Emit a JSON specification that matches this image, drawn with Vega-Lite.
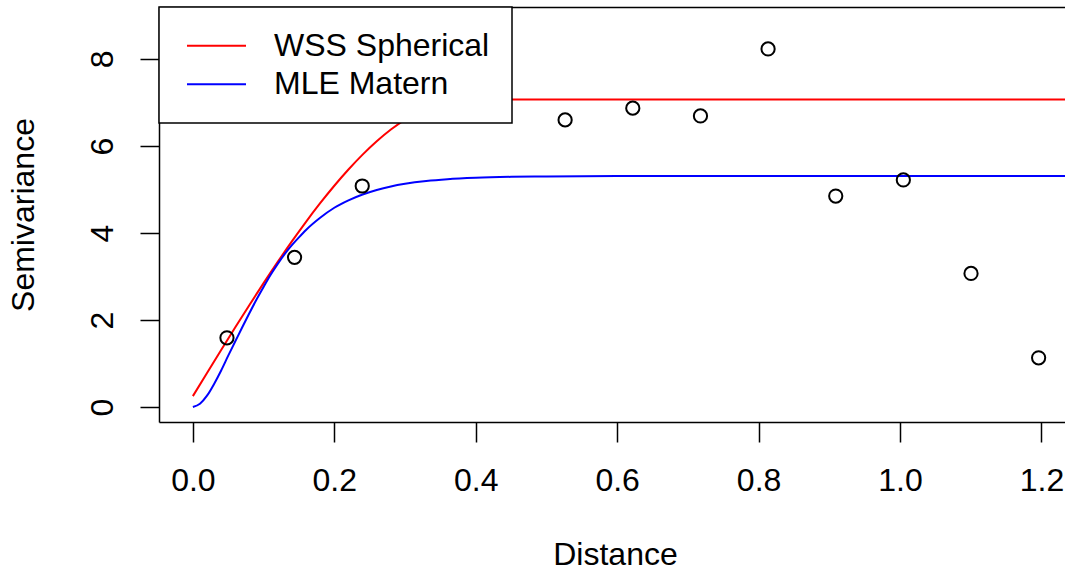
{
  "$schema": "https://vega.github.io/schema/vega-lite/v6.json",
  "width": 906,
  "height": 415,
  "autosize": {"type": "none"},
  "padding": {"left": 159, "top": 7, "right": 0, "bottom": 149},
  "background": "white",
  "datasets": {
    "points": [
      {"distance": 0.0482, "semivariance": 1.59},
      {"distance": 0.1438, "semivariance": 3.44},
      {"distance": 0.2395, "semivariance": 5.08},
      {"distance": 0.5264, "semivariance": 6.60},
      {"distance": 0.6221, "semivariance": 6.87},
      {"distance": 0.7178, "semivariance": 6.69},
      {"distance": 0.8134, "semivariance": 8.23},
      {"distance": 0.9091, "semivariance": 4.85},
      {"distance": 1.0047, "semivariance": 5.22},
      {"distance": 1.1004, "semivariance": 3.07},
      {"distance": 1.196, "semivariance": 1.13}
    ],
    "curves": [
      {"model": "WSS Spherical", "distance": 0.0, "semivariance": 0.25},
      {"model": "WSS Spherical", "distance": 0.02, "semivariance": 0.781},
      {"model": "WSS Spherical", "distance": 0.04, "semivariance": 1.309},
      {"model": "WSS Spherical", "distance": 0.06, "semivariance": 1.831},
      {"model": "WSS Spherical", "distance": 0.08, "semivariance": 2.345},
      {"model": "WSS Spherical", "distance": 0.10, "semivariance": 2.847},
      {"model": "WSS Spherical", "distance": 0.12, "semivariance": 3.335},
      {"model": "WSS Spherical", "distance": 0.14, "semivariance": 3.806},
      {"model": "WSS Spherical", "distance": 0.16, "semivariance": 4.257},
      {"model": "WSS Spherical", "distance": 0.18, "semivariance": 4.684},
      {"model": "WSS Spherical", "distance": 0.20, "semivariance": 5.086},
      {"model": "WSS Spherical", "distance": 0.22, "semivariance": 5.459},
      {"model": "WSS Spherical", "distance": 0.24, "semivariance": 5.801},
      {"model": "WSS Spherical", "distance": 0.26, "semivariance": 6.108},
      {"model": "WSS Spherical", "distance": 0.28, "semivariance": 6.378},
      {"model": "WSS Spherical", "distance": 0.30, "semivariance": 6.608},
      {"model": "WSS Spherical", "distance": 0.32, "semivariance": 6.795},
      {"model": "WSS Spherical", "distance": 0.34, "semivariance": 6.936},
      {"model": "WSS Spherical", "distance": 0.36, "semivariance": 7.028},
      {"model": "WSS Spherical", "distance": 0.385, "semivariance": 7.07},
      {"model": "WSS Spherical", "distance": 1.25, "semivariance": 7.07},
      {"model": "MLE Matern", "distance": 0.0, "semivariance": 0.0},
      {"model": "MLE Matern", "distance": 0.01, "semivariance": 0.075},
      {"model": "MLE Matern", "distance": 0.02, "semivariance": 0.26},
      {"model": "MLE Matern", "distance": 0.03, "semivariance": 0.53},
      {"model": "MLE Matern", "distance": 0.04, "semivariance": 0.84},
      {"model": "MLE Matern", "distance": 0.05, "semivariance": 1.18},
      {"model": "MLE Matern", "distance": 0.06, "semivariance": 1.51},
      {"model": "MLE Matern", "distance": 0.07, "semivariance": 1.84},
      {"model": "MLE Matern", "distance": 0.08, "semivariance": 2.16},
      {"model": "MLE Matern", "distance": 0.09, "semivariance": 2.47},
      {"model": "MLE Matern", "distance": 0.10, "semivariance": 2.76},
      {"model": "MLE Matern", "distance": 0.11, "semivariance": 3.04},
      {"model": "MLE Matern", "distance": 0.12, "semivariance": 3.29},
      {"model": "MLE Matern", "distance": 0.13, "semivariance": 3.52},
      {"model": "MLE Matern", "distance": 0.14, "semivariance": 3.72},
      {"model": "MLE Matern", "distance": 0.15, "semivariance": 3.90},
      {"model": "MLE Matern", "distance": 0.16, "semivariance": 4.07},
      {"model": "MLE Matern", "distance": 0.18, "semivariance": 4.35},
      {"model": "MLE Matern", "distance": 0.20, "semivariance": 4.58},
      {"model": "MLE Matern", "distance": 0.22, "semivariance": 4.75},
      {"model": "MLE Matern", "distance": 0.24, "semivariance": 4.885},
      {"model": "MLE Matern", "distance": 0.26, "semivariance": 4.99},
      {"model": "MLE Matern", "distance": 0.28, "semivariance": 5.07},
      {"model": "MLE Matern", "distance": 0.30, "semivariance": 5.13},
      {"model": "MLE Matern", "distance": 0.33, "semivariance": 5.194},
      {"model": "MLE Matern", "distance": 0.36, "semivariance": 5.236},
      {"model": "MLE Matern", "distance": 0.40, "semivariance": 5.269},
      {"model": "MLE Matern", "distance": 0.45, "semivariance": 5.291},
      {"model": "MLE Matern", "distance": 0.50, "semivariance": 5.301},
      {"model": "MLE Matern", "distance": 0.60, "semivariance": 5.309},
      {"model": "MLE Matern", "distance": 1.25, "semivariance": 5.31}
    ]
  },
  "layer": [
    {
      "data": {"name": "curves"},
      "mark": {"type": "line", "strokeWidth": 2, "clip": true, "interpolate": "monotone"},
      "encoding": {
        "x": {
          "field": "distance", "type": "quantitative",
          "scale": {"domain": [-0.0479, 1.2333], "nice": false, "zero": false},
          "axis": {
            "orient": "bottom",
            "values": [0, 0.2, 0.4, 0.6, 0.8, 1.0, 1.2],
            "format": ".1f",
            "title": "Distance",
            "tickSize": 20,
            "labelBaseline": "alphabetic",
            "labelAlign": "center",
            "labelPadding": 48,
            "titleX": 456,
            "titleY": 142,
            "titleAlign": "center",
            "titleBaseline": "alphabetic"
          }
        },
        "y": {
          "field": "semivariance", "type": "quantitative",
          "scale": {"domain": [-0.345, 9.195], "nice": false, "zero": false},
          "axis": {
            "values": [0, 2, 4, 6, 8],
            "title": "Semivariance",
            "tickSize": 19,
            "labelAngle": -90,
            "labelAlign": "center",
            "labelBaseline": "alphabetic",
            "labelPadding": 28,
            "titleAngle": -90,
            "titleX": -126,
            "titleY": 207.5,
            "titleAlign": "center",
            "titleBaseline": "alphabetic"
          }
        },
        "color": {
          "field": "model", "type": "nominal",
          "scale": {"domain": ["WSS Spherical", "MLE Matern"], "range": ["#FF0000", "#0000FF"]},
          "legend": {
            "title": null,
            "orient": "none",
            "legendX": 0,
            "legendY": 0,
            "padding": 22.7,
            "rowPadding": 6.6,
            "symbolType": "M-2.5,0H2.5",
            "symbolSize": 557,
            "symbolStrokeWidth": 2,
            "symbolOffset": 18.8,
            "labelOffset": 41.5,
            "labelFontSize": 32,
            "labelFont": "Liberation Sans",
            "labelColor": "black",
            "labelLimit": 500,
            "strokeColor": "black",
            "fillColor": "white",
            "cornerRadius": 0
          }
        }
      }
    },
    {
      "data": {"name": "points"},
      "mark": {"type": "point", "shape": "circle", "filled": false, "color": "black", "size": 175, "strokeWidth": 2, "opacity": 1},
      "encoding": {
        "x": {
          "field": "distance", "type": "quantitative",
          "axis": {"orient": "top", "labels": false, "ticks": false, "domain": true, "title": null, "grid": false}
        },
        "y": {"field": "semivariance", "type": "quantitative"}
      }
    }
  ],
  "resolve": {"axis": {"x": "independent"}},
  "config": {
    "view": {"stroke": null},
    "font": "Liberation Sans",
    "axis": {
      "grid": false,
      "domainColor": "black",
      "domainWidth": 1.5,
      "tickColor": "black",
      "tickWidth": 1.5,
      "labelFont": "Liberation Sans",
      "labelFontSize": 32,
      "labelColor": "black",
      "labelFlush": false,
      "labelOverlap": false,
      "titleFont": "Liberation Sans",
      "titleFontSize": 32,
      "titleFontWeight": "normal",
      "titleColor": "black"
    },
    "legend": {"strokeWidth": 1.5}
  }
}
